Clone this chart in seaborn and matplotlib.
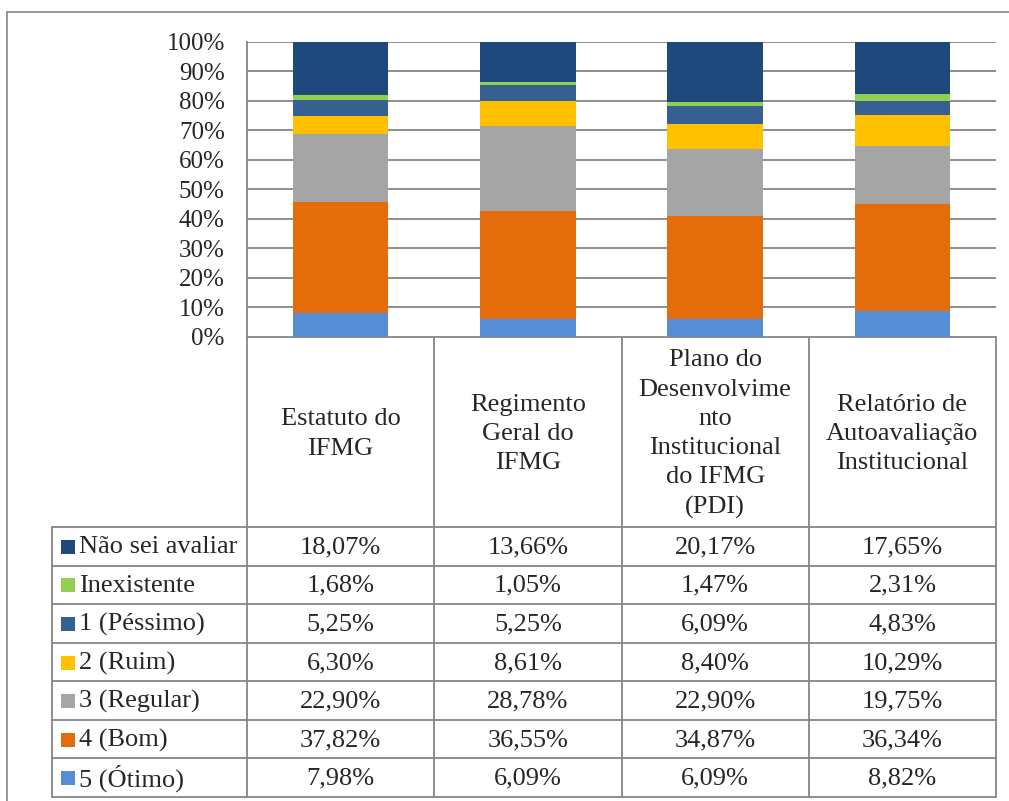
import numpy as np
import matplotlib
matplotlib.use("Agg")
import matplotlib.pyplot as plt
import seaborn as sns

# ── data ────────────────────────────────────────────────────
categories = ["Estatuto do\nIFMG",
              "Regimento\nGeral do\nIFMG",
              "Plano do\nDesenvolvime\nnto\nInstitucional\ndo IFMG\n(PDI)",
              "Relatório de\nAutoavaliação\nInstitucional"]

series_names = ["Não sei avaliar", "Inexistente", "1 (Péssimo)", "2 (Ruim)",
                "3 (Regular)", "4 (Bom)", "5 (Ótimo)"]

nao_sei     = [18.07, 13.66, 20.17, 17.65]
inexistente = [1.68, 1.05, 1.47, 2.31]
pessimo     = [5.25, 5.25, 6.09, 4.83]
ruim        = [6.30, 8.61, 8.40, 10.29]
regular     = [22.90, 28.78, 22.90, 19.75]
bom         = [37.82, 36.55, 34.87, 36.34]
otimo       = [7.98, 6.09, 6.09, 8.82]

colors = ["#1F497D", "#92D050", "#366092", "#FFC000",
          "#A5A5A5", "#E46C0A", "#558ED5"]

values = [nao_sei, inexistente, pessimo, ruim, regular, bom, otimo]

sns.set_style("white")
plt.rcParams["font.family"] = ["Liberation Serif", "DejaVu Serif"]
FS = 19        # table text
FS_TICK = 18   # y tick labels
GRID = "#868686"

W, H = 1009, 801
fig = plt.figure(figsize=(W / 100, H / 100), dpi=100)

# background axes in pixel coordinates for frame + data table
bg = fig.add_axes([0, 0, 1, 1])
bg.set_xlim(0, W)
bg.set_ylim(H, 0)
bg.axis("off")

# outer chart frame (top + left visible)
bg.plot([7, W], [12, 12], color=GRID, lw=1.2)
bg.plot([7, 7], [12, H], color=GRID, lw=1.2)

# ── stacked bars ────────────────────────────────────────────
x0, x1 = 247, 996
y_top, y_bot = 42, 337
ax = fig.add_axes([x0 / W, 1 - y_bot / H, (x1 - x0) / W, (y_bot - y_top) / H])

cum = np.cumsum(np.array(values[::-1]), axis=0)[::-1]   # bottom-up cumulative
for top, col in zip(cum, colors):
    sns.barplot(x=list(range(len(categories))), y=top, color=col,
                saturation=1, width=0.51, errorbar=None, linewidth=0,
                ax=ax, zorder=3)

ax.set_xlim(-0.5, len(categories) - 0.5)
ax.set_ylim(0, 100)
ax.set_yticks(np.arange(0, 101, 10))
ax.set_yticklabels([f"{t}%" for t in range(0, 101, 10)], fontsize=FS_TICK)
ax.set_xticks([])
ax.set_xlabel("")
ax.set_ylabel("")
ax.tick_params(axis="y", length=0, pad=16)
ax.grid(axis="y", color=GRID, lw=1.3, zorder=0)
ax.set_axisbelow(True)
for s in ["top", "right", "bottom"]:
    ax.spines[s].set_visible(False)
ax.spines["left"].set_color(GRID)
ax.spines["left"].set_linewidth(1.3)

# ── data table ──────────────────────────────────────────────
col_edges = np.linspace(x0, x1, len(categories) + 1)
head_bot = 527
row_h = (797 - head_bot) / len(series_names)
row_edges = [head_bot + i * row_h for i in range(len(series_names) + 1)]
tab_left = 52

lw = 1.3
bg.plot([x0, x1], [y_bot, y_bot], color=GRID, lw=lw)
for xe in col_edges:
    bg.plot([xe, xe], [y_bot, row_edges[-1]], color=GRID, lw=lw)
for ye in row_edges:
    bg.plot([tab_left, x1], [ye, ye], color=GRID, lw=lw)
bg.plot([tab_left, tab_left], [head_bot, row_edges[-1]], color=GRID, lw=lw)

for i, cat in enumerate(categories):
    xc = (col_edges[i] + col_edges[i + 1]) / 2
    bg.text(xc, (y_bot + head_bot) / 2 + 2, cat, ha="center", va="center",
            fontsize=FS, linespacing=1.42, multialignment="center")

for r, (name, col, vals) in enumerate(zip(series_names, colors, values)):
    yc = (row_edges[r] + row_edges[r + 1]) / 2
    bg.add_patch(plt.Rectangle((61, yc - 6.5), 14, 14, color=col, lw=0))
    bg.text(79, yc + 1, name, ha="left", va="center", fontsize=FS)
    for i, v in enumerate(vals):
        xc = (col_edges[i] + col_edges[i + 1]) / 2
        bg.text(xc, yc + 1, f"{v:.2f}%".replace(".", ","), ha="center",
                va="center", fontsize=FS)

fig.savefig("out.png", dpi=100)
